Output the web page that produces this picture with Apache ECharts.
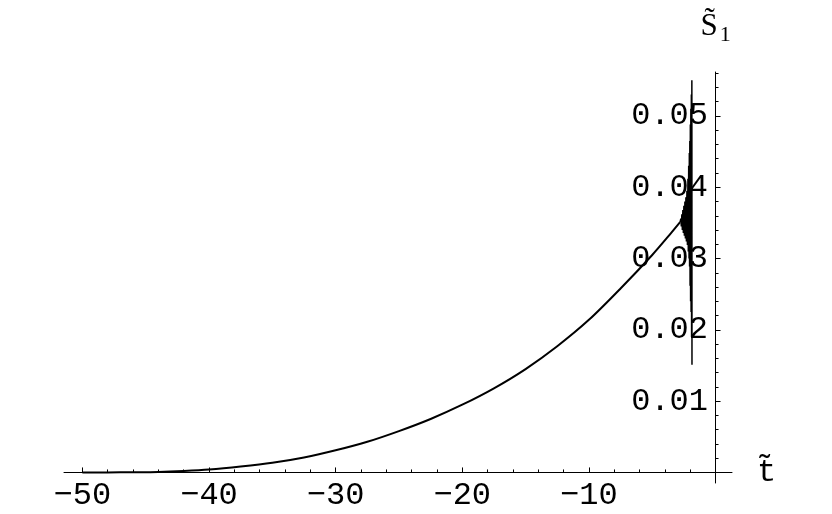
<!DOCTYPE html>
<html>
<head>
<meta charset="utf-8">
<script src="https://cdn.jsdelivr.net/npm/echarts@6/dist/echarts.min.js"></script>
<style>
  html, body { margin: 0; padding: 0; background: #fff; }
  #chart { width: 832px; height: 514px; }
</style>
</head>
<body>
<div id="chart"></div>
<script>
// smooth part of S1(t)
const curveT = [-50, -48, -46, -44, -42, -40, -37.5, -35, -32.5, -30, -27.5, -25, -22.5, -20,
  -17.5, -15, -12.5, -10, -7.5, -5, -3.5, -2.8]
const curveS = [0, 0.00001, 0.00003, 0.00007, 0.0002, 0.0004, 0.00082, 0.00135, 0.0021, 0.0031,
  0.0043, 0.0058, 0.0075, 0.0095, 0.0118, 0.0145, 0.0177, 0.0214, 0.0258, 0.0305, 0.0336, 0.0351]

// fast oscillation near the end (zig-zag between the two envelopes)
const oscT = [-2.8, -2.74, -2.7, -2.66, -2.62, -2.58, -2.54, -2.5, -2.46, -2.42, -2.38, -2.34,
  -2.3, -2.26, -2.22, -2.18, -2.15, -2.12, -2.09, -2.07, -2.05, -2.03, -2.01, -1.99, -1.97,
  -1.95, -1.93, -1.91, -1.89, -1.87, -1.86]
const oscS = [0.0351, 0.0356, 0.0345, 0.0362, 0.034, 0.0368, 0.0336, 0.0374, 0.0332, 0.038,
  0.0328, 0.0386, 0.0324, 0.0395, 0.0319, 0.0412, 0.031, 0.043, 0.03, 0.0448, 0.0289, 0.0465,
  0.0262, 0.0488, 0.024, 0.051, 0.0225, 0.053, 0.019, 0.055, 0.0151]

const xMajor = [-50, -40, -30, -20, -10]
const xMinor = [-48, -46, -44, -42, -38, -36, -34, -32, -28, -26, -24, -22, -18, -16, -14, -12,
  -8, -6, -4, -2]
const yMajor = [0.01, 0.02, 0.03, 0.04, 0.05]
const yMinor = [0.002, 0.004, 0.006, 0.008, 0.012, 0.014, 0.016, 0.018, 0.022, 0.024, 0.026,
  0.028, 0.032, 0.034, 0.036, 0.038, 0.042, 0.044, 0.046, 0.048, 0.052, 0.054, 0.056]

const xMin = -51.45
const xMax = 1.3
const yMin = -0.00148
const yMax = 0.05616

const monoFont = 'Liberation Mono'

const chart = echarts.init(document.getElementById('chart'))

function zip (a, b) {
  return a.map((v, i) => [v, b[i]])
}

chart.setOption({
  animation: false,
  backgroundColor: '#fff',
  grid: {
    left: 64,
    right: 100,
    top: 72,
    bottom: 31,
    outerBoundsMode: 'none'
  },
  xAxis: [{
    type: 'value',
    min: xMin,
    max: xMax,
    position: 'bottom',
    axisLine: { onZero: true, onZeroAxisIndex: 0, lineStyle: { color: '#000', width: 1 } },
    axisTick: { inside: true, length: 5, customValues: xMajor, lineStyle: { color: '#000' } },
    // labels stay at the grid edge, so pull them up to the zero line
    axisLabel: {
      customValues: xMajor,
      formatter: v => String(v).replace('-', '\u2212'),
      fontFamily: monoFont,
      fontSize: 32,
      color: '#000',
      margin: -3
    },
    splitLine: { show: false },
    name: 't\u0303',
    nameLocation: 'end',
    nameGap: 25,
    nameTextStyle: { fontFamily: monoFont, fontSize: 32, color: '#000' }
  }, {
    type: 'value',
    min: xMin,
    max: xMax,
    position: 'bottom',
    axisLine: { show: false, onZero: true, onZeroAxisIndex: 0 },
    axisTick: { inside: true, length: 3, customValues: xMinor, lineStyle: { color: '#000' } },
    axisLabel: { show: false },
    splitLine: { show: false }
  }],
  yAxis: [{
    type: 'value',
    min: yMin,
    max: yMax,
    position: 'left',
    axisLine: { show: true, onZero: true, onZeroAxisIndex: 0, lineStyle: { color: '#000', width: 1 } },
    axisTick: { show: true, inside: true, length: 5, customValues: yMajor, lineStyle: { color: '#000' } },
    // same trick: move the labels from the grid edge next to the t = 0 line
    axisLabel: {
      customValues: yMajor,
      formatter: v => v.toFixed(2),
      fontFamily: monoFont,
      fontSize: 32,
      color: '#000',
      margin: -644
    },
    splitLine: { show: false },
    name: '{s|S\u0303}{sub|1}',
    nameLocation: 'end',
    nameGap: 26,
    nameTextStyle: {
      rich: {
        s: { fontFamily: 'Liberation Serif', fontSize: 31, color: '#000' },
        sub: { fontFamily: 'Liberation Serif', fontSize: 22, color: '#000', padding: [16, 0, 0, 2] }
      }
    }
  }, {
    type: 'value',
    min: yMin,
    max: yMax,
    position: 'left',
    axisLine: { show: false, onZero: true, onZeroAxisIndex: 0 },
    axisTick: { show: true, inside: true, length: 3, customValues: yMinor, lineStyle: { color: '#000' } },
    axisLabel: { show: false },
    splitLine: { show: false }
  }],
  series: [{
    type: 'line',
    data: zip(curveT, curveS),
    showSymbol: false,
    smooth: 0.3,
    lineStyle: { color: '#000', width: 2 }
  }, {
    type: 'line',
    data: zip(oscT, oscS),
    showSymbol: false,
    lineStyle: { color: '#000', width: 1.5 }
  }]
})
</script>
</body>
</html>
